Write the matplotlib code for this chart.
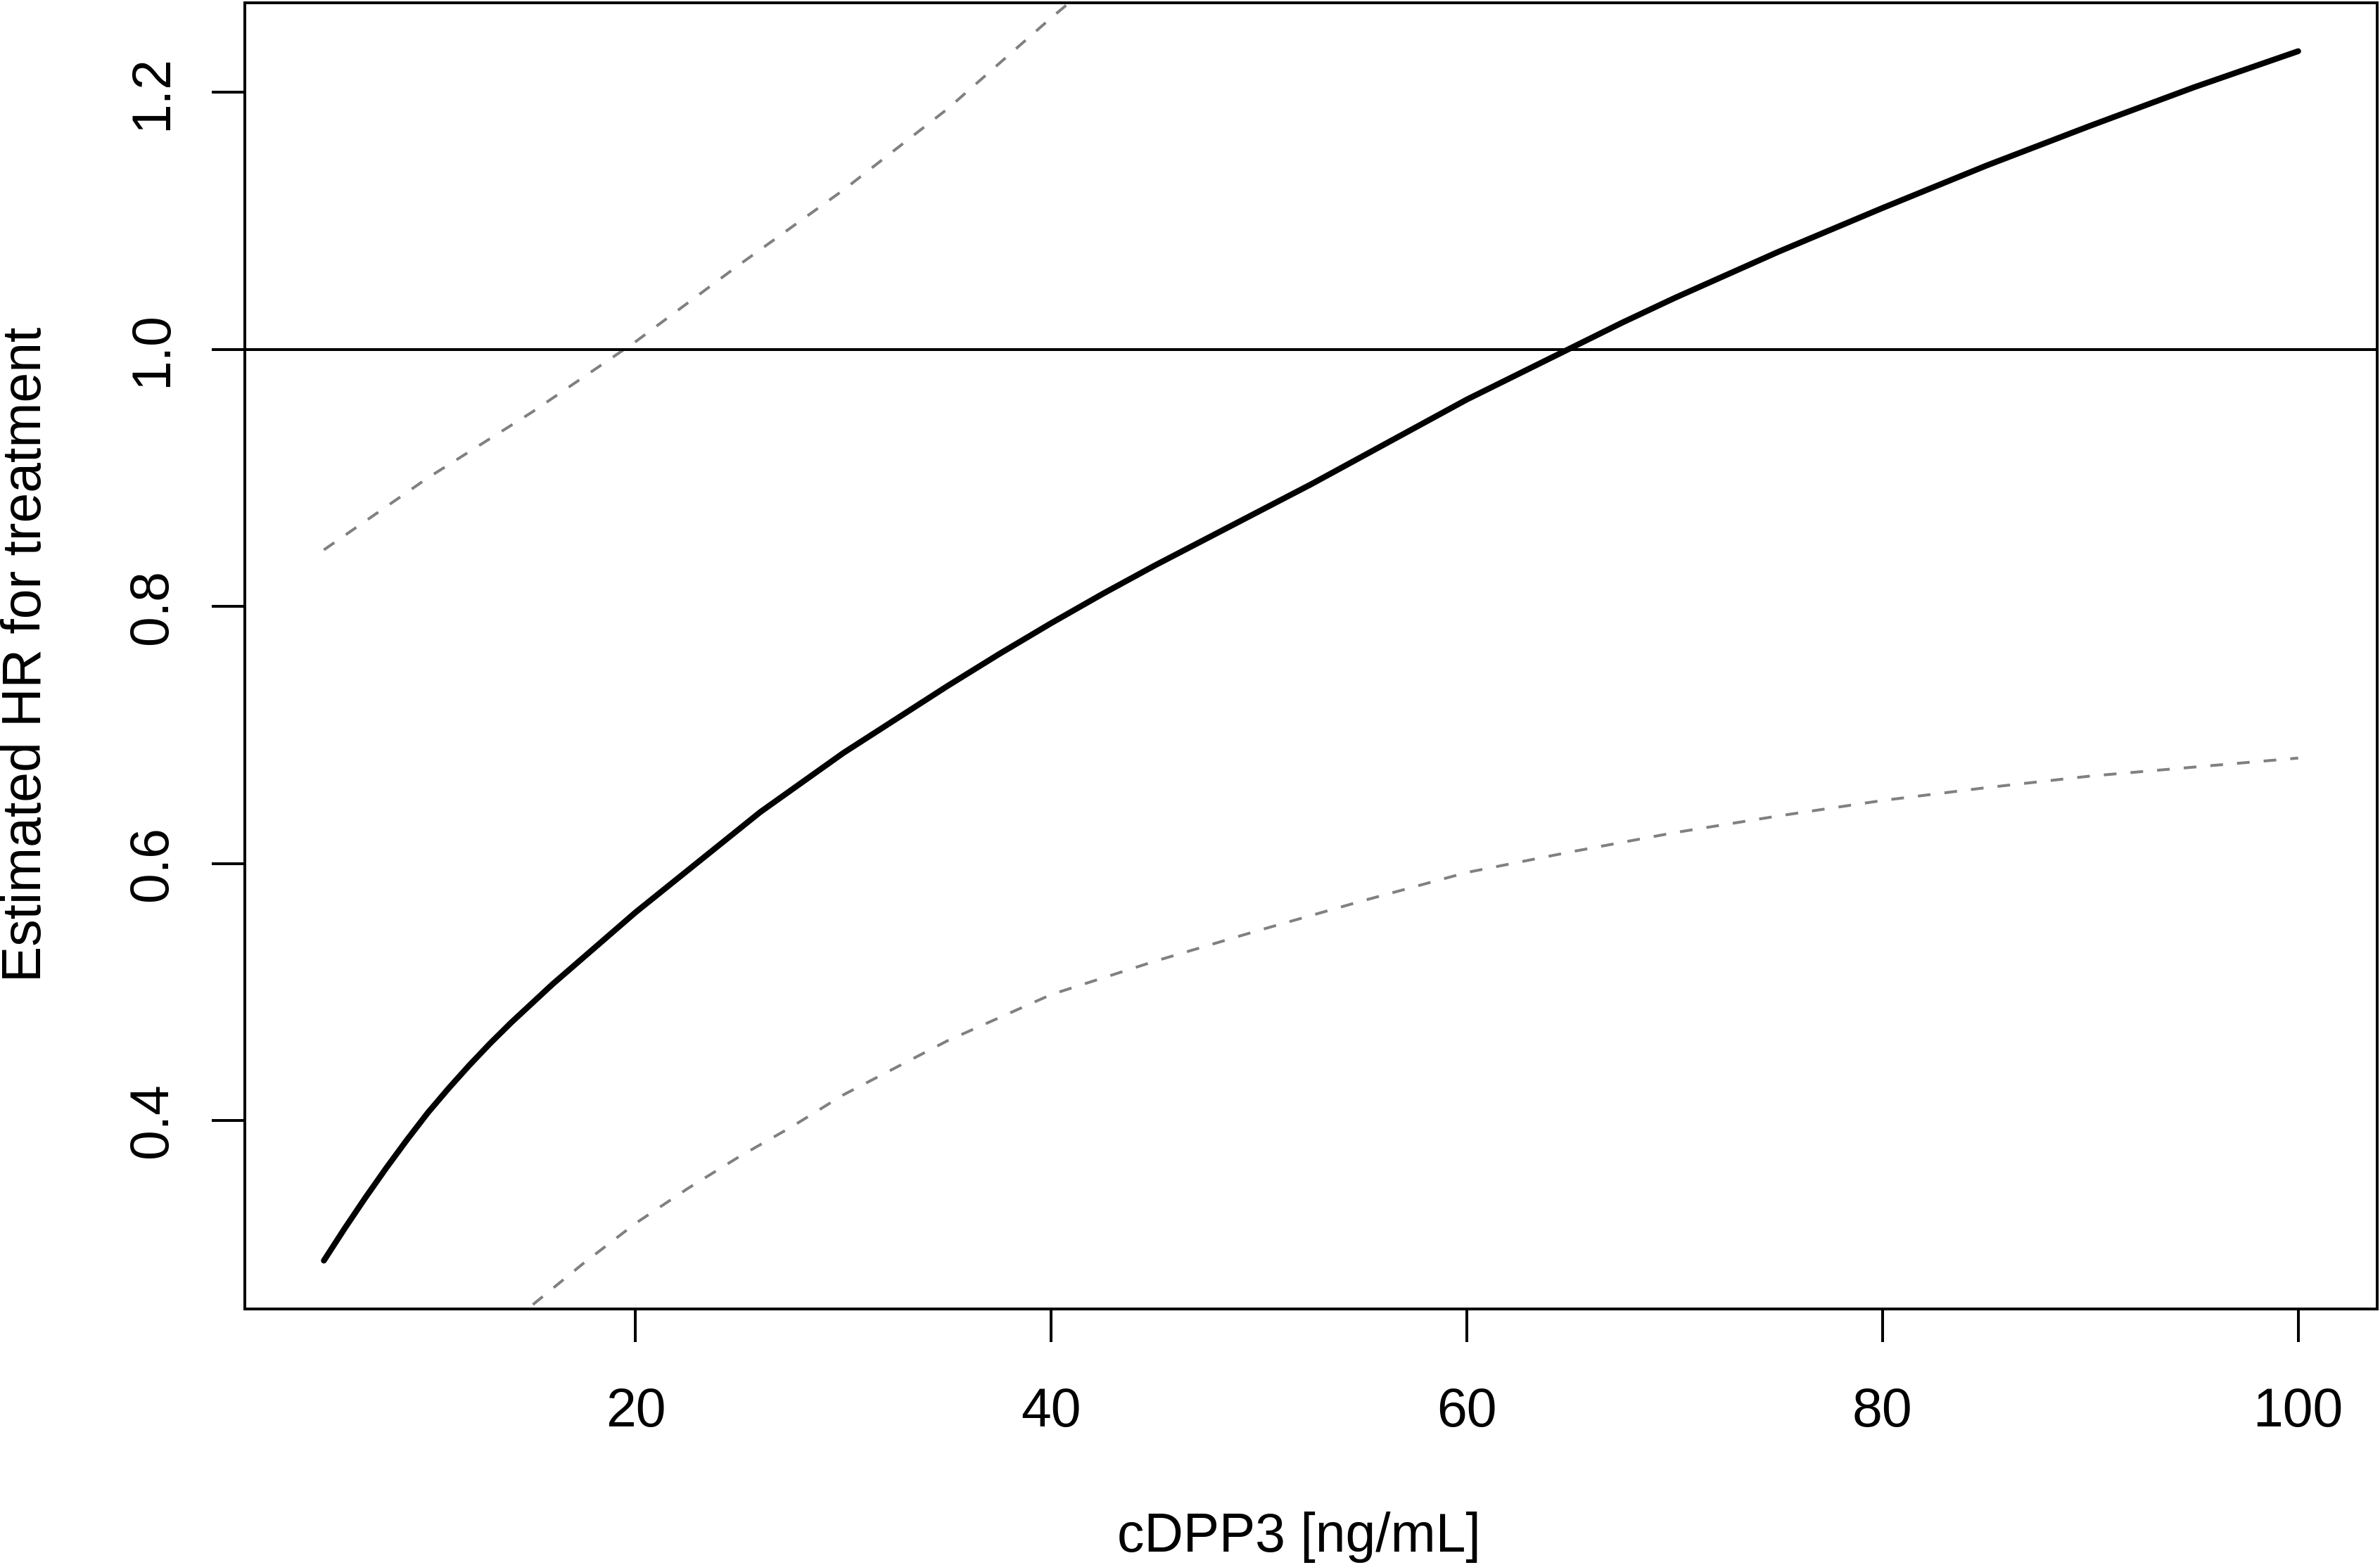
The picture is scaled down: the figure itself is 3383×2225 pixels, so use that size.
import numpy as np
import matplotlib.pyplot as plt

plt.rcParams['font.family'] = ['Liberation Sans', 'DejaVu Sans']

# estimated hazard ratio over cDPP3
cdpp3 = [5, 6, 7, 8, 9, 10, 11, 12, 13, 14, 15, 16, 17, 18, 19, 20, 22, 24,
         26, 28, 30, 32.5, 35, 37.5, 40, 42.5, 45, 47.5, 50, 52.5, 55, 57.5,
         60, 62.5, 65, 67.5, 70, 75, 80, 85, 90, 95, 100]
hr = [0.291, 0.316, 0.340, 0.363, 0.385, 0.406, 0.425, 0.443, 0.460, 0.476,
      0.491, 0.506, 0.520, 0.534, 0.548, 0.562, 0.588, 0.614, 0.640, 0.663,
      0.686, 0.712, 0.738, 0.763, 0.787, 0.810, 0.832, 0.853, 0.874, 0.895,
      0.917, 0.939, 0.961, 0.981, 1.001, 1.021, 1.040, 1.076, 1.110, 1.143,
      1.174, 1.204, 1.232]

# upper confidence band (leaves the plot at the top)
upper_x = [5, 10, 15, 20, 25, 30, 35, 40, 42]
upper = [0.844, 0.900, 0.951, 1.006, 1.066, 1.124, 1.187, 1.258, 1.285]

# lower confidence band (enters from the bottom)
lower_x = [14, 15, 17.5, 20, 22.5, 25, 27.5, 30, 35, 40, 45, 50, 55, 60,
           65, 70, 75, 80, 85, 90, 95, 100]
lower = [0.245, 0.256, 0.289, 0.320, 0.347, 0.372, 0.395, 0.420, 0.462, 0.498,
         0.524, 0.548, 0.571, 0.593, 0.609, 0.624, 0.637, 0.649, 0.659, 0.668,
         0.675, 0.682]

xticks = [20, 40, 60, 80, 100]
yticks = [0.4, 0.6, 0.8, 1.0, 1.2]

fig = plt.figure(figsize=(3383 / 200, 2225 / 200), dpi=200)
ax = fig.add_axes([0.1029, 0.1636, 0.8959, 0.8346])

lw = 1.44
ax.plot(cdpp3, hr, color='black', lw=3.0, solid_capstyle='round',
        solid_joinstyle='round')
ax.plot(upper_x, upper, color='#808080', lw=lw, dashes=(4.5, 5))
ax.plot(lower_x, lower, color='#808080', lw=lw, dashes=(4.5, 5))
ax.axhline(1.0, color='black', lw=lw)

# R-style 4% padding around the estimate
xr = max(cdpp3) - min(cdpp3)
yr = max(hr) - min(hr)
ax.set_xlim(min(cdpp3) - 0.04 * xr, max(cdpp3) + 0.04 * xr)
ax.set_ylim(min(hr) - 0.04 * yr, max(hr) + 0.04 * yr)

ax.set_xticks(xticks)
ax.set_xticklabels([str(t) for t in xticks])
ax.set_yticks(yticks)
ax.set_yticklabels(['%.1f' % t for t in yticks], rotation=90, va='center')
ax.tick_params(length=16.9, width=lw, labelsize=27.7, direction='out')
ax.tick_params(axis='x', pad=22.7)
ax.tick_params(axis='y', pad=17.2)
for s in ax.spines.values():
    s.set_linewidth(lw)

fig.text(0.5457, 0.0085, 'cDPP3 [ng/mL]', fontsize=27.7,
         ha='center', va='baseline')
fig.text(0.0171, 0.582, 'Estimated HR for treatment', fontsize=27.7,
         rotation=90, rotation_mode='anchor', ha='center', va='baseline')

fig.savefig('out.png', dpi=200)
